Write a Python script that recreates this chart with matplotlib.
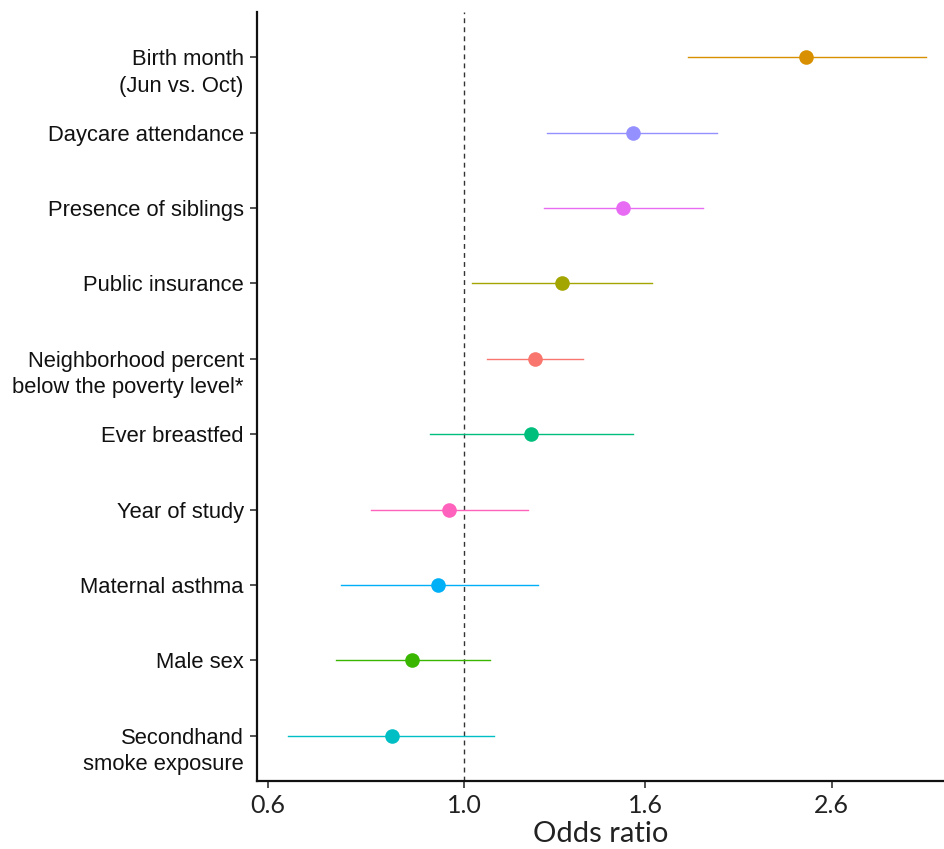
import matplotlib
matplotlib.use("Agg")
import matplotlib.pyplot as plt
import matplotlib.transforms as mtransforms
from matplotlib.ticker import FixedLocator, NullLocator, FixedFormatter
import numpy as np

labels = ["Birth month\n(Jun vs. Oct)", "Daycare attendance", "Presence of siblings",
          "Public insurance", "Neighborhood percent\nbelow the poverty level*",
          "Ever breastfed", "Year of study", "Maternal asthma", "Male sex",
          "Secondhand\nsmoke exposure"]
odds = [2.43, 1.55, 1.51, 1.29, 1.20, 1.19, 0.96, 0.933, 0.872, 0.828]
lower = [1.79, 1.24, 1.23, 1.02, 1.06, 0.914, 0.784, 0.725, 0.716, 0.632]
upper = [3.32, 1.93, 1.86, 1.63, 1.36, 1.55, 1.18, 1.21, 1.07, 1.08]
colors = ["#D89000", "#9590FF", "#E76BF3", "#A3A500", "#F8766D",
          "#00BF7D", "#FF62BC", "#00B0F6", "#39B600", "#00BFC4"]
xticks = [0.6, 1.0, 1.6, 2.6]
xtick_labels = ["0.6", "1.0", "1.6", "2.6"]

fig = plt.figure(figsize=(9.45, 8.49), dpi=100)
ax = fig.add_axes([0.272, 0.080, 0.728, 0.906])

n = len(labels)
ypos = np.arange(n, 0, -1)
ax.axvline(1.0, color="#333333", lw=1.0, ls=(0, (3.5, 3)), zorder=1)
for y, o, lo, hi, c in zip(ypos, odds, lower, upper, colors):
    ax.plot([lo, hi], [y, y], color=c, lw=1.0, zorder=2)
    ax.plot([o], [y], 'o', color=c, ms=10.5, mec='none', zorder=3)

ax.set_xscale('log')
ax.set_xlim(0.583, 3.49)
ax.set_ylim(0.4, 10.6)
ax.xaxis.set_major_locator(FixedLocator(xticks))
ax.xaxis.set_major_formatter(FixedFormatter(xtick_labels))
ax.xaxis.set_minor_locator(NullLocator())
ax.set_yticks(ypos)
ax.set_yticklabels([""] * n)

base = mtransforms.blended_transform_factory(ax.transAxes, ax.transData)
line_step = 19.0  # points between label lines
for y, lab in zip(ypos, labels):
    for k, part in enumerate(lab.split("\n")):
        tr = base + mtransforms.ScaledTranslation(-9.5 / 72, -k * line_step / 72,
                                                  fig.dpi_scale_trans)
        ax.text(0, y, part, transform=tr, ha='right', va='center_baseline',
                fontfamily="Liberation Sans", fontsize=15.8, color="#111111",
                clip_on=False)

for t in ax.get_xticklabels():
    t.set_fontfamily("Lato")
    t.set_fontsize(18)
    t.set_color("#222222")
ax.set_xlabel("Odds ratio", fontfamily="Lato", fontsize=21, color="#222222", labelpad=3)
ax.tick_params(axis='both', length=5, width=1.2, color="#333333")
ax.tick_params(axis='x', pad=4)
for s in ["top", "right"]:
    ax.spines[s].set_visible(False)
for s in ["left", "bottom"]:
    ax.spines[s].set_linewidth(1.6)
    ax.spines[s].set_color("#111111")

fig.savefig("out.png", dpi=100)
